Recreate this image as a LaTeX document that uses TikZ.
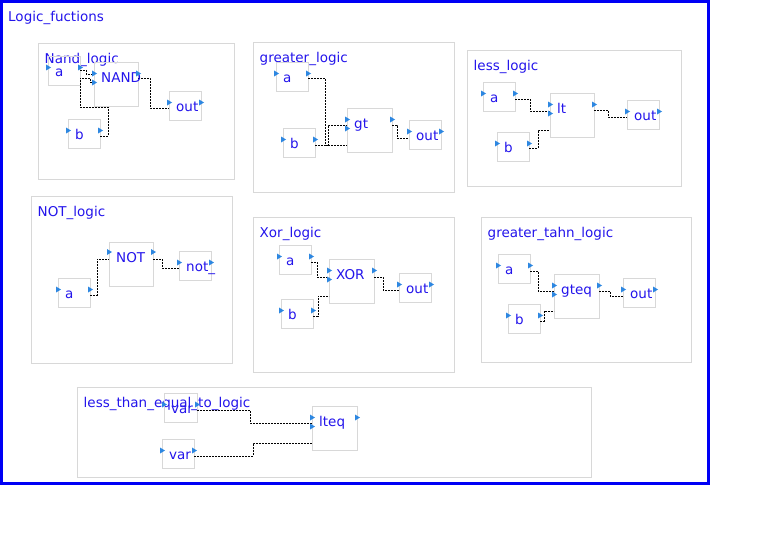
\documentclass[tikz,border=0pt]{standalone}
\usepackage{fontspec}
\setmainfont{DejaVu Sans}
\usepackage{xcolor}
\usepackage{tikz}
\usetikzlibrary{calc}
\definecolor{logicBlue}{RGB}{0,0,245}
\definecolor{textBlue}{RGB}{35,20,235}
\definecolor{boxGray}{RGB}{216,216,216}
\definecolor{portBlue}{RGB}{45,135,225}

\begin{document}
\begin{tikzpicture}[x=1pt,y=-1pt,
  grpbox/.style={draw=boxGray, line width=0.9pt, anchor=north west, inner sep=0pt, outer sep=0pt},
  blk/.style={grpbox, minimum width=32pt, minimum height=29pt},
  gate/.style={grpbox, minimum width=44pt, minimum height=44pt},
  grpTitle/.style={anchor=base west, inner sep=0pt, text=textBlue, font=\fontsize{13.5}{16}\selectfont},
  lbl/.style={grpTitle},
  wire/.style={draw=black, line width=0.7pt, dash pattern=on 2pt off 1pt},
  portmark/.pic={\fill[portBlue] (-2,-3) -- (3,0) -- (-2,3) -- cycle;}]
\useasboundingbox (0,0) rectangle (760,535);

\node[grpbox, draw=logicBlue, line width=3pt, minimum width=706.5pt, minimum height=481.5pt] (logicFrame) at (1.5,1.5) {};
\node[grpTitle] (logicTitle) at ([shift={(6.5,20.5)}]logicFrame.north west) {Logic\_fuctions};

\node[grpbox, minimum width=196pt, minimum height=136pt] (nandFrame) at (38,43) {};
\node[grpbox, minimum width=201pt, minimum height=150pt] (grFrame) at (253,42) {};
\node[grpbox, minimum width=214pt, minimum height=136pt] (lsFrame) at (467,50) {};
\node[grpbox, minimum width=201pt, minimum height=167pt] (notFrame) at (31,196) {};
\node[grpbox, minimum width=201pt, minimum height=155pt] (xorFrame) at (253,217) {};
\node[grpbox, minimum width=210pt, minimum height=145pt] (gtFrame) at (481,217) {};
\node[grpbox, minimum width=514pt, minimum height=90pt] (leFrame) at (77,387) {};

\node[grpTitle] (nandTitle) at ([shift={(6.5,20.5)}]nandFrame.north west) {Nand\_logic};
\node[grpTitle] (grTitle) at ([shift={(6.5,20.5)}]grFrame.north west) {greater\_logic};
\node[grpTitle] (lsTitle) at ([shift={(6.5,20.5)}]lsFrame.north west) {less\_logic};
\node[grpTitle] (notTitle) at ([shift={(6.5,20.5)}]notFrame.north west) {NOT\_logic};
\node[grpTitle] (xorTitle) at ([shift={(6.5,20.5)}]xorFrame.north west) {Xor\_logic};
\node[grpTitle] (gtTitle) at ([shift={(6.5,20.5)}]gtFrame.north west) {greater\_tahn\_logic};
\node[grpTitle] (leTitle) at ([shift={(6.5,20.5)}]leFrame.north west) {less\_than\_equal\_to\_logic};

\node[blk] (nandA) at (48,56) {};
\node[blk] (nandB) at (68,119) {};
\node[gate] (nandGate) at (94,62) {};
\node[blk] (nandOut) at (169,91) {};

\node[blk] (grA) at (276,62) {};
\node[blk] (grB) at (283,128) {};
\node[gate, minimum width=45pt] (grGate) at (347,108) {};
\node[blk] (grOut) at (409,120) {};

\node[blk] (lsA) at (483,82) {};
\node[blk] (lsB) at (497,132) {};
\node[gate] (lsGate) at (550,93) {};
\node[blk] (lsOut) at (627,100) {};

\node[blk] (notA) at (58,278) {};
\node[gate] (notGate) at (109,242) {};
\node[blk] (notOut) at (179,251) {};

\node[blk] (xorA) at (279,245) {};
\node[blk] (xorB) at (281,299) {};
\node[gate, minimum width=45pt] (xorGate) at (329,259) {};
\node[blk] (xorOut) at (399,273) {};

\node[blk] (gtA) at (498,254) {};
\node[blk] (gtB) at (508,304) {};
\node[gate, minimum width=45pt] (gtGate) at (554,274) {};
\node[blk] (gtOut) at (623,278) {};

\node[blk, minimum width=33pt] (leA) at (164,393) {};
\node[blk] (leB) at (162,439) {};
\node[gate, minimum width=45pt] (leGate) at (312,406) {};

\draw[wire] ([yshift=-14pt]nandA.north east) -- ++(6,0) |- ([yshift=-12pt]nandGate.north west);
\draw[wire] ([yshift=-17pt]nandB.north east) -- ++(8,0) -- ++(0,-29) -- ++(-28,0) -- ++(0,-29) -- ++(10,0) |- ([yshift=-20pt]nandGate.north west);
\draw[wire] ([yshift=-16pt]nandGate.north east) -- ++(12,0) |- ([yshift=-17pt]nandOut.north west);
\draw[wire] ([yshift=-16pt]grA.north east) -- ++(17,0) |- ([yshift=-37pt]grGate.north west);
\draw[wire] ([yshift=-17pt]grB.north east) -- ++(13,0) |- ([yshift=-17pt]grGate.north west);
\draw[wire] ([yshift=-17pt]grGate.north east) -- ++(5,0) |- ([yshift=-18pt]grOut.north west);
\draw[wire] ([yshift=-17pt]lsA.north east) -- ++(15,0) |- ([yshift=-18pt]lsGate.north west);
\draw[wire] ([yshift=-16pt]lsB.north east) -- ++(9,0) |- ([yshift=-37pt]lsGate.north west);
\draw[wire] ([yshift=-17pt]lsGate.north east) -- ++(14,0) |- ([yshift=-17pt]lsOut.north west);
\draw[wire] ([yshift=-17pt]notA.north east) -- ++(7,0) |- ([yshift=-17pt]notGate.north west);
\draw[wire] ([yshift=-17pt]notGate.north east) -- ++(9,0) |- ([yshift=-17pt]notOut.north west);
\draw[wire] ([yshift=-17pt]xorA.north east) -- ++(6,0) |- ([yshift=-18pt]xorGate.north west);
\draw[wire] ([yshift=-17pt]xorB.north east) -- ++(5,0) |- ([yshift=-37pt]xorGate.north west);
\draw[wire] ([yshift=-18pt]xorGate.north east) -- ++(9,0) |- ([yshift=-17pt]xorOut.north west);
\draw[wire] ([yshift=-17pt]gtA.north east) -- ++(8,0) |- ([yshift=-17pt]gtGate.north west);
\draw[wire] ([yshift=-17pt]gtB.north east) -- ++(4,0) |- ([yshift=-37pt]gtGate.north west);
\draw[wire] ([yshift=-17pt]gtGate.north east) -- ++(11,0) |- ([yshift=-18pt]gtOut.north west);
\draw[wire] ([yshift=-17pt]leA.north east) -- ++(53,0) |- ([yshift=-17pt]leGate.north west);
\draw[wire] ([yshift=-17pt]leB.north east) -- ++(59,0) |- ([yshift=-37pt]leGate.north west);

\node[lbl] (nandALbl) at ([shift={(7,20)}]nandA.north west) {a};
\node[lbl] (nandBLbl) at ([shift={(7,20)}]nandB.north west) {b};
\node[lbl] (nandGateLbl) at ([shift={(7,20)}]nandGate.north west) {NAND};
\node[lbl] (nandOutLbl) at ([shift={(7,20)}]nandOut.north west) {out};
\node[lbl] (grALbl) at ([shift={(7,20)}]grA.north west) {a};
\node[lbl] (grBLbl) at ([shift={(7,20)}]grB.north west) {b};
\node[lbl] (grGateLbl) at ([shift={(7,20)}]grGate.north west) {gt};
\node[lbl] (grOutLbl) at ([shift={(7,20)}]grOut.north west) {out};
\node[lbl] (lsALbl) at ([shift={(7,20)}]lsA.north west) {a};
\node[lbl] (lsBLbl) at ([shift={(7,20)}]lsB.north west) {b};
\node[lbl] (lsGateLbl) at ([shift={(7,20)}]lsGate.north west) {lt};
\node[lbl] (lsOutLbl) at ([shift={(7,20)}]lsOut.north west) {out};
\node[lbl] (notALbl) at ([shift={(7,20)}]notA.north west) {a};
\node[lbl] (notGateLbl) at ([shift={(7,20)}]notGate.north west) {NOT};
\node[lbl] (notOutLbl) at ([shift={(7,20)}]notOut.north west) {not\_};
\node[lbl] (xorALbl) at ([shift={(7,20)}]xorA.north west) {a};
\node[lbl] (xorBLbl) at ([shift={(7,20)}]xorB.north west) {b};
\node[lbl] (xorGateLbl) at ([shift={(7,20)}]xorGate.north west) {XOR};
\node[lbl] (xorOutLbl) at ([shift={(7,20)}]xorOut.north west) {out};
\node[lbl] (gtALbl) at ([shift={(7,20)}]gtA.north west) {a};
\node[lbl] (gtBLbl) at ([shift={(7,20)}]gtB.north west) {b};
\node[lbl] (gtGateLbl) at ([shift={(7,20)}]gtGate.north west) {gteq};
\node[lbl] (gtOutLbl) at ([shift={(7,20)}]gtOut.north west) {out};
\node[lbl] (leALbl) at ([shift={(7,20)}]leA.north west) {var};
\node[lbl] (leBLbl) at ([shift={(7,20)}]leB.north west) {var};
\node[lbl] (leGateLbl) at ([shift={(7,20)}]leGate.north west) {lteq};

\foreach \n in {nandA,nandB,nandOut,grA,grB,grOut,lsA,lsB,lsOut,notA,notOut,xorA,xorB,xorOut,gtA,gtB,gtOut,leA,leB} {
  \pic at ([yshift=-11.5pt]\n.north west) {portmark};
  \pic at ([yshift=-11.5pt]\n.north east) {portmark};
}
\foreach \n in {nandGate,grGate,lsGate,xorGate,gtGate,leGate} {
  \pic at ([yshift=-11.5pt]\n.north west) {portmark};
  \pic at ([yshift=-20.5pt]\n.north west) {portmark};
  \pic at ([yshift=-11.5pt]\n.north east) {portmark};
}
\pic at ([yshift=-10pt]notGate.north west) {portmark};
\pic at ([yshift=-10pt]notGate.north east) {portmark};
\end{tikzpicture}
\end{document}
